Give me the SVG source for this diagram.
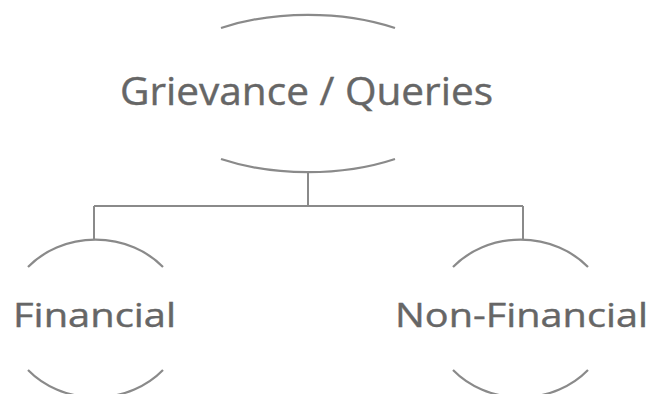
<svg xmlns="http://www.w3.org/2000/svg" width="652" height="394" viewBox="0 0 652 394">
<style>
.arc{fill:none;stroke:#8a8a8a;stroke-width:2.2}
.con{fill:none;stroke:#8a8a8a;stroke-width:2}
.lbl{font-family:"Open Sans","DejaVu Sans",sans-serif;fill:#666;stroke:#666;stroke-width:0.4}
</style>
<rect width="652" height="394" fill="#fff"/>
<g id="connectors">
<path class="con" d="M308 172 V206 M94 206 H523 M94 206 V240 M523 206 V240"/>
</g>
<g id="node-grievance">
<path class="arc" d="M221 28 A157 78.5 0 0 1 395 28"/>
<path class="arc" d="M221 159 A157 78.5 0 0 0 395 159"/>
<text class="lbl" x="120" y="105" font-size="38" textLength="373" lengthAdjust="spacingAndGlyphs">Grievance / Queries</text>
</g>
<g id="node-financial">
<path class="arc" d="M28 267 A89 78.5 0 0 1 163 267"/>
<path class="arc" d="M28 370 A89 78.5 0 0 0 163 370"/>
<text class="lbl" x="13" y="327" font-size="33" textLength="163" lengthAdjust="spacingAndGlyphs">Financial</text>
</g>
<g id="node-nonfinancial">
<path class="arc" d="M453 267 A89 78.5 0 0 1 588 267"/>
<path class="arc" d="M453 370 A89 78.5 0 0 0 588 370"/>
<text class="lbl" x="395" y="327" font-size="33" textLength="253" lengthAdjust="spacingAndGlyphs">Non-Financial</text>
</g>
</svg>
